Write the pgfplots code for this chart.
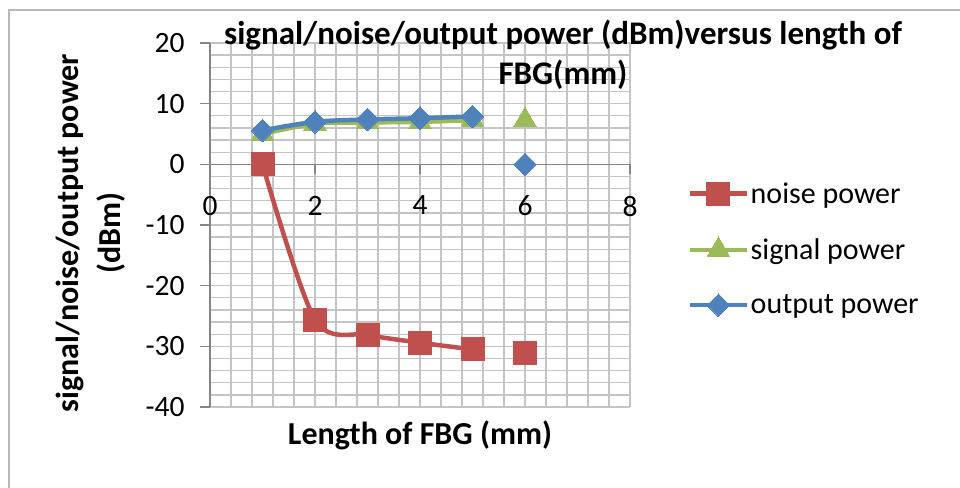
\documentclass[border=0pt]{standalone}
\usepackage{pgfplots}
\pgfplotsset{compat=1.18}
\usepackage{fontspec}
\setmainfont{Carlito}
\usetikzlibrary{calc}
\definecolor{nred}{HTML}{C0504D}
\definecolor{sgreen}{HTML}{9BBB59}
\definecolor{oblue}{HTML}{4F81BD}
\definecolor{gridc}{HTML}{C4C4C4}
\definecolor{axc}{HTML}{868686}
\begin{document}
\begin{tikzpicture}
\begin{axis}[
  name=ax,
  scale only axis, width=420pt, height=364pt,
  xmin=0, xmax=8, ymin=-40, ymax=20,
  axis x line*=middle, axis y line*=left,
  hide obscured x ticks=false,
  xtick={0,2,4,6,8}, ytick={-40,-30,...,20},
  minor x tick num=4, minor y tick num=4,
  grid=both,
  major grid style={gridc, line width=1.3pt},
  minor grid style={gridc, line width=1.3pt},
  axis line style={axc, line width=1.3pt, -},
  tick style={axc, line width=1.3pt},
  tick align=outside, major tick length=10pt, minor tick length=0pt,
  /pgf/number format/assume math mode=true,
  tick label style={font=\fontsize{29.5}{34}\selectfont},
  xticklabel style={yshift=-18pt},
  yticklabel style={xshift=-12pt},
  clip=false,
  legend style={at={(rel axis cs:1,0.5)}, anchor=west, xshift=58pt, yshift=-24pt,
    draw=none, fill=none, font=\fontsize{30}{34}\selectfont, row sep=30pt,
    inner xsep=0pt},
  legend cell align=left,
  legend image code/.code={\draw[mark repeat=2,mark phase=2] plot coordinates {(0pt,0pt) (28pt,0pt) (56pt,0pt)};},
]
\addplot[nred, line width=4.5pt, smooth, tension=0.5, mark=square*, mark size=11.5pt, mark options={solid, fill=nred, draw=nred, line width=0pt}]
  coordinates {(1,0) (2,-25.6) (3,-28.1) (4,-29.4) (5,-30.5)};
\addlegendentry{noise power}
\addplot[sgreen, line width=4.5pt, smooth, tension=0.5, mark=triangle*, mark size=13pt, mark options={solid, fill=sgreen, draw=sgreen, line width=0pt}]
  coordinates {(1,5.0) (2,6.7) (3,6.9) (4,7.0) (5,7.3)};
\addlegendentry{signal power}
\addplot[oblue, line width=4.5pt, smooth, tension=0.5, mark=square*, mark size=8pt, mark options={solid, rotate=45, fill=oblue, draw=oblue, line width=0pt}]
  coordinates {(1,5.6) (2,7.0) (3,7.4) (4,7.6) (5,7.9)};
\addlegendentry{output power}
\addplot[only marks, mark=square*, mark size=11.5pt, mark options={fill=nred, draw=nred, line width=0pt}, forget plot]
  coordinates {(6,-31.1)};
\addplot[only marks, mark=triangle*, mark size=13pt, mark options={fill=sgreen, draw=sgreen, line width=0pt}, forget plot]
  coordinates {(6,7.3)};
\addplot[only marks, mark=square*, mark size=8pt, mark options={rotate=45, fill=oblue, draw=oblue, line width=0pt}, forget plot]
  coordinates {(6,0)};
\end{axis}
\node[align=center, font=\fontsize{33}{40}\selectfont\bfseries] at ($(ax.north west)+(353pt,-12pt)$)
  {signal/noise/output power (dBm)versus length of\\FBG(mm)};
\node[font=\fontsize{32}{36}\selectfont\bfseries] at ($(ax.south west)+(210pt,-28pt)$) {Length of FBG (mm)};
\node[rotate=90, align=center, font=\fontsize{32}{42}\selectfont\bfseries] at ($(ax.west)+(-119pt,-8pt)$)
  {signal/noise/output power\\(dBm)};
\draw[gray!55, line width=1.5pt] ($(ax.south west)+(-201pt,-90pt)$) |- ($(ax.north east)+(340pt,33pt)$);
\pgfresetboundingbox
\path[use as bounding box] ($(ax.south west)+(-210pt,-81pt)$) rectangle ($(ax.north east)+(330pt,43pt)$);
\end{tikzpicture}
\end{document}
